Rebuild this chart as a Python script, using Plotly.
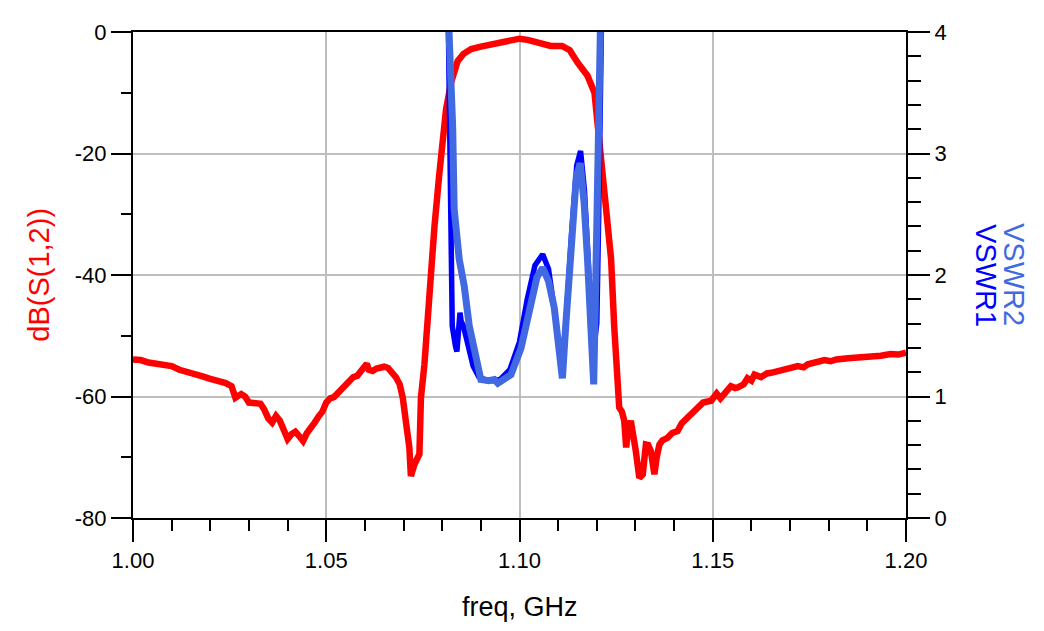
import plotly.graph_objects as go

# dB(S(1,2)) trace
freq_s12 = [1.000, 1.002, 1.004, 1.006, 1.008, 1.010, 1.012, 1.014, 1.016, 1.018,
            1.020, 1.022, 1.024, 1.0255, 1.0265, 1.028, 1.029, 1.030, 1.032, 1.033,
            1.034, 1.035, 1.036, 1.037, 1.038, 1.039, 1.040, 1.041, 1.042, 1.043,
            1.044, 1.045, 1.046, 1.047, 1.048, 1.049, 1.050, 1.051, 1.052, 1.053,
            1.054, 1.055, 1.056, 1.057, 1.058, 1.059, 1.060, 1.0605, 1.061, 1.062,
            1.063, 1.064, 1.065, 1.066, 1.067, 1.068, 1.069, 1.0698, 1.0707, 1.0715,
            1.0719, 1.0722, 1.0728, 1.0741, 1.0745, 1.0754, 1.0762, 1.0770, 1.0780, 1.0792,
            1.0801, 1.0810, 1.0823, 1.0840, 1.0855, 1.0875, 1.0900, 1.0918, 1.0935, 1.0955,
            1.0978, 1.1000, 1.1021, 1.1040, 1.1056, 1.1081, 1.1110, 1.1130, 1.1150, 1.1176,
            1.1194, 1.1202, 1.1211, 1.1219, 1.1228, 1.1237, 1.1245, 1.1250, 1.1254, 1.1258,
            1.1265, 1.1271, 1.1276, 1.1280, 1.1288, 1.1295, 1.1301, 1.1310, 1.1319, 1.1327,
            1.1333, 1.1340, 1.1349, 1.1355, 1.1362, 1.1370, 1.1383, 1.1395, 1.1409, 1.1420,
            1.1435, 1.1448, 1.1461, 1.1475, 1.1496, 1.1510, 1.1520, 1.1530, 1.1547, 1.1558,
            1.1565, 1.1580, 1.1590, 1.1600, 1.1608, 1.1625, 1.1640, 1.1651, 1.1670, 1.1690,
            1.1702, 1.1720, 1.1735, 1.1746, 1.1765, 1.1789, 1.1805, 1.1820, 1.1850, 1.1875,
            1.1900, 1.1920, 1.1935, 1.1960, 1.1980, 1.2000]
db_s12 = [-53.9, -54.0, -54.4, -54.6, -55.0, -55.0, -55.6, -55.9, -56.4, -56.7,
          -57.1, -57.4, -57.8, -58.3, -60.2, -59.6, -60.0, -61.0, -61.3, -61.2,
          -62.2, -63.6, -64.3, -63.2, -64.0, -65.8, -67.0, -66.2, -65.8, -66.5,
          -67.3, -66.0, -64.9, -64.3, -63.3, -62.5, -61.0, -60.3, -60.1, -59.4,
          -58.8, -58.3, -57.6, -56.8, -56.6, -55.8, -55.4, -54.6, -55.6, -55.8,
          -55.4, -55.2, -55.1, -55.3, -55.9, -56.8, -58.0, -60.2, -64.6, -68.4,
          -73.1, -72.5, -71.2, -69.5, -60.2, -54.7, -47.0, -40.0, -32.0, -23.7,
          -18.2, -12.7, -8.3, -4.8, -3.6, -2.8, -2.4, -2.2, -1.8, -1.6,
          -1.3, -1.1, -1.3, -1.6, -2.0, -2.3, -2.3, -3.0, -5.0, -7.2,
          -10.0, -15.5, -21.0, -26.5, -31.9, -37.4, -48.4, -53.5, -58.5, -61.8,
          -62.5, -64.0, -68.4, -66.0, -64.0, -66.5, -69.0, -73.4, -72.8, -67.9,
          -68.0, -69.0, -72.8, -70.0, -67.9, -67.2, -66.8, -66.0, -65.7, -64.4,
          -63.5, -62.5, -61.8, -61.0, -60.7, -59.5, -60.3, -59.5, -58.3, -58.6,
          -58.5, -58.0, -57.0, -57.4, -56.4, -56.8, -56.2, -56.1, -55.7, -55.5,
          -55.3, -55.0, -55.2, -54.7, -54.3, -54.0, -54.2, -53.9, -53.7, -53.6,
          -53.5, -53.6, -53.3, -53.0, -53.1, -52.8]

# VSWR1 (dark blue)
freq_vswr1 = [1.0812, 1.0816, 1.0818, 1.0820, 1.0824, 1.0826, 1.0834, 1.0838, 1.0846, 1.0849,
              1.0855, 1.0865, 1.0880, 1.0895, 1.0910, 1.0930, 1.0950, 1.0975, 1.1000, 1.1020,
              1.1040, 1.1060, 1.1075, 1.1090, 1.1100, 1.1111, 1.1120, 1.1135, 1.1148, 1.1158,
              1.1168, 1.1178, 1.1186, 1.1194, 1.1200, 1.1205, 1.1210, 1.1214]
vswr1 = [5.0, 4.0, 3.23, 2.54, 1.99, 1.58, 1.42, 1.37, 1.69, 1.62,
         1.58, 1.45, 1.25, 1.16, 1.14, 1.13, 1.14, 1.22, 1.45, 1.80,
         2.08, 2.17, 2.05, 1.72, 1.45, 1.30, 1.60, 2.35, 2.90, 3.02,
         2.70, 2.10, 1.55, 1.45, 1.60, 2.50, 3.60, 4.50]

# VSWR2 (royal blue)
freq_vswr2 = [1.0815, 1.0818, 1.0827, 1.0831, 1.0844, 1.0857, 1.0870, 1.0887, 1.0900, 1.0920,
              1.0935, 1.0944, 1.0960, 1.0978, 1.1004, 1.1030, 1.1045, 1.1060, 1.1075, 1.1090,
              1.1100, 1.1111, 1.1120, 1.1131, 1.1147, 1.1157, 1.1167, 1.1176, 1.1185, 1.1192,
              1.1200, 1.1209, 1.1212]
vswr2 = [4.5, 3.97, 3.23, 2.54, 2.13, 1.91, 1.58, 1.31, 1.14, 1.13,
         1.14, 1.11, 1.14, 1.18, 1.40, 1.79, 1.98, 2.06, 1.95, 1.73,
         1.45, 1.15, 1.60, 2.13, 2.81, 2.92, 2.60, 2.13, 1.58, 1.10,
         2.40, 3.50, 4.50]

x_ticks = [1.00, 1.05, 1.10, 1.15, 1.20]
db_ticks = [-80, -60, -40, -20, 0]

RED = '#FF0000'
BLUE1 = '#0000FF'
BLUE2 = '#4169E1'
FONT = 'Arial, Liberation Sans, sans-serif'

fig = go.Figure()

fig.add_trace(go.Scatter(
    x=freq_vswr1, y=vswr1, yaxis='y2', mode='lines',
    line=dict(color=BLUE1, width=5.5), name='VSWR1',
))
fig.add_trace(go.Scatter(
    x=freq_vswr2, y=vswr2, yaxis='y2', mode='lines',
    line=dict(color=BLUE2, width=7), name='VSWR2',
))
fig.add_trace(go.Scatter(
    x=freq_s12, y=db_s12, mode='lines',
    line=dict(color=RED, width=6.5), name='dB(S(1,2))',
))

# page body adds ~7px offset, so the figure is a bit smaller than the window
fig.update_layout(
    width=1030,
    height=617,
    margin=dict(l=125, r=132, t=24, b=107),
    paper_bgcolor='white',
    plot_bgcolor='white',
    showlegend=False,
    font=dict(family=FONT, size=22, color='black'),
    xaxis=dict(
        range=[1.0, 1.2],
        tickvals=x_ticks,
        ticktext=['%.2f' % v for v in x_ticks],
        ticks='outside', ticklen=22, tickwidth=2, tickcolor='black',
        showline=True, linecolor='black', linewidth=2, mirror=True,
        showgrid=True, gridcolor='#BEBEBE', gridwidth=2,
        zeroline=False,
        minor=dict(dtick=0.01, ticks='outside', ticklen=11, tickwidth=2,
                   tickcolor='black', showgrid=False),
    ),
    yaxis=dict(
        range=[-80, 0],
        tickvals=db_ticks,
        ticktext=[str(v) for v in db_ticks],
        ticks='outside', ticklen=20, tickwidth=2, tickcolor='black',
        showline=True, linecolor='black', linewidth=2,
        showgrid=True, gridcolor='#BEBEBE', gridwidth=2,
        zeroline=False,
        minor=dict(dtick=10, ticks='outside', ticklen=10, tickwidth=2,
                   tickcolor='black', showgrid=False),
    ),
    yaxis2=dict(
        range=[0, 4],
        dtick=1,
        overlaying='y', side='right',
        ticks='outside', ticklen=22, tickwidth=2, tickcolor='black',
        showline=True, linecolor='black', linewidth=2,
        showgrid=False, zeroline=False,
        minor=dict(dtick=0.2, ticks='outside', ticklen=13, tickwidth=2,
                   tickcolor='black', showgrid=False),
    ),
    annotations=[
        dict(text='freq, GHz', xref='paper', yref='paper', x=0.5, y=-0.183,
             xanchor='center', yanchor='middle', showarrow=False,
             font=dict(family=FONT, size=27, color='black')),
        dict(text='dB(S(1,2))', xref='paper', yref='paper', x=-0.122, y=0.5,
             xanchor='center', yanchor='middle', showarrow=False, textangle=-90,
             font=dict(family=FONT, size=29, color=RED)),
        dict(text='VSWR1', xref='paper', yref='paper', x=1.1035, y=0.5,
             xanchor='center', yanchor='middle', showarrow=False, textangle=90,
             font=dict(family=FONT, size=29, color=BLUE1)),
        dict(text='VSWR2', xref='paper', yref='paper', x=1.1397, y=0.5,
             xanchor='center', yanchor='middle', showarrow=False, textangle=90,
             font=dict(family=FONT, size=29, color=BLUE2)),
    ],
)

fig.write_html('out.html')
